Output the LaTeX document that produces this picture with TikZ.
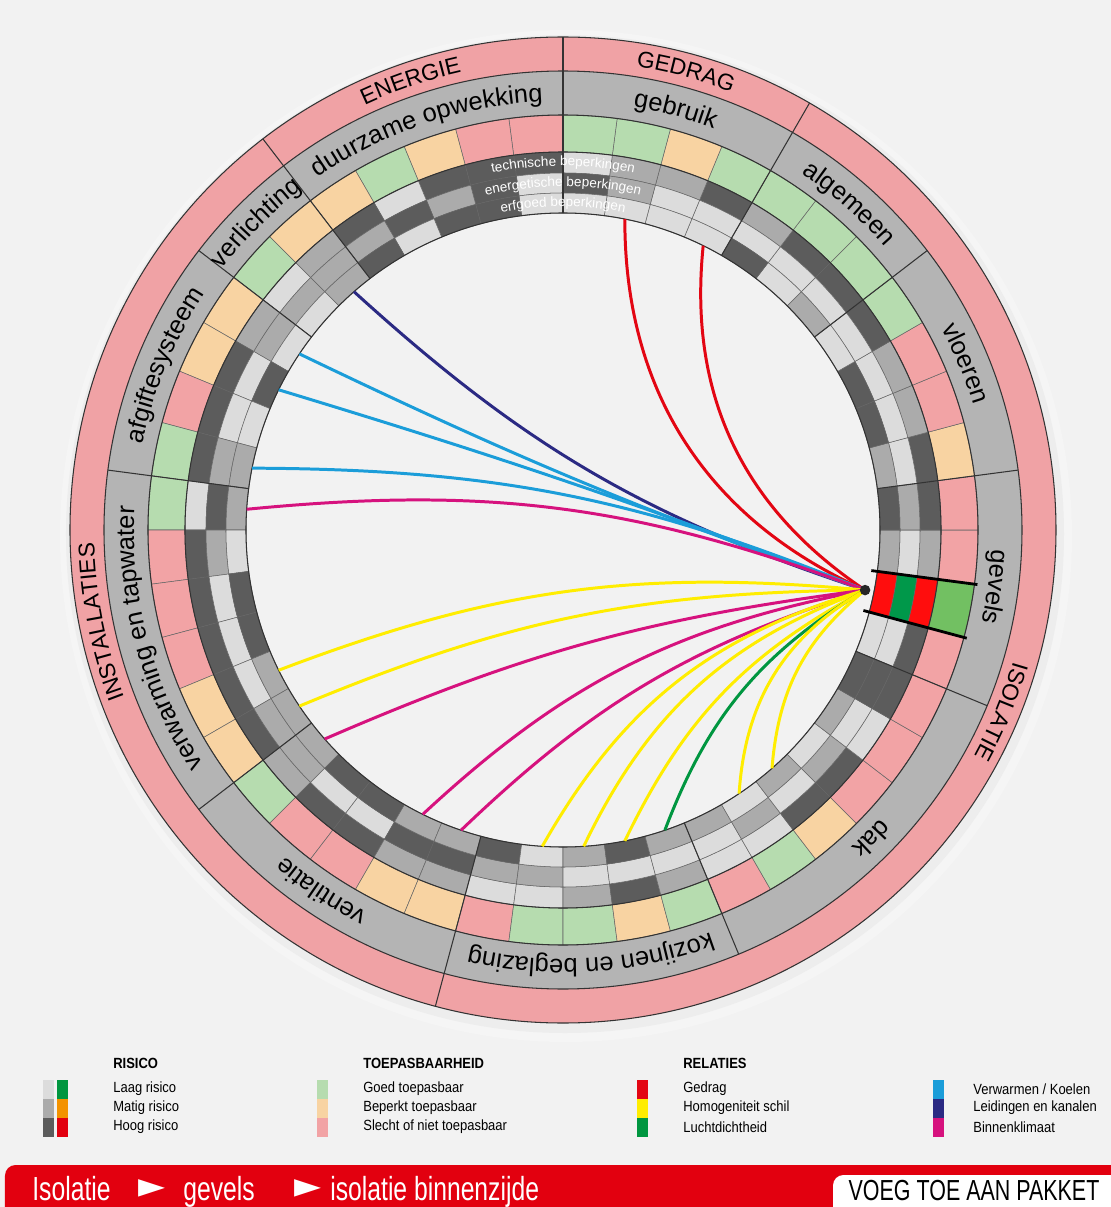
\documentclass[tikz,border=0pt]{standalone}
\usepackage{fontspec}
\setmainfont{Liberation Sans}
\newfontfamily\condfont[FakeStretch=0.88]{Liberation Sans}
\newfontfamily\barfont[FakeStretch=0.74]{Liberation Sans}
\newfontfamily\symfont{DejaVu Sans}
\usetikzlibrary{decorations.text}

\definecolor{pagebg}{HTML}{F2F2F2}
\definecolor{ringpink}{HTML}{F0A2A5}
\definecolor{ringgray}{HTML}{B4B4B4}
\definecolor{rL}{HTML}{DCDCDC}
\definecolor{rM}{HTML}{ABABAB}
\definecolor{rD}{HTML}{5C5C5C}
\definecolor{tG}{HTML}{B6DCAF}
\definecolor{tO}{HTML}{F8D3A2}
\definecolor{tP}{HTML}{F2A3A5}
\definecolor{tH}{HTML}{72C062}
\definecolor{hR}{HTML}{FF0D0D}
\definecolor{hG}{HTML}{00984A}
\definecolor{relred}{HTML}{E30613}
\definecolor{relyellow}{HTML}{FFED00}
\definecolor{relgreen}{HTML}{009640}
\definecolor{relblue}{HTML}{1B9DD9}
\definecolor{relnavy}{HTML}{2B2A83}
\definecolor{relmagenta}{HTML}{D6127E}
\definecolor{riskgreen}{HTML}{00963F}
\definecolor{riskorange}{HTML}{F39200}
\definecolor{barred}{HTML}{E2000F}

\tikzset{
  cellline/.style={draw=black!60,line width=0.3pt},
  ringline/.style={draw=black!80,line width=0.6pt},
  rel/.style={line width=1.7pt},
  hubdot/.style={circle,fill=black!85,inner sep=0pt,minimum size=6pt},
  legtitle/.style={anchor=west,inner sep=0pt,font=\condfont\bfseries\fontsize{8.4}{9}\selectfont},
  legtext/.style={anchor=west,inner sep=0pt,font=\condfont\fontsize{8.4}{9}\selectfont},
  bartext/.style={anchor=base west,inner sep=0pt,text=white,font=\barfont\fontsize{19}{19}\selectfont},
  bararrow/.style={anchor=west,inner sep=0pt,text=white,font=\symfont\fontsize{20}{20}\selectfont}
}

\newcommand\cellseg[3]{\filldraw[#1,cellline] (\angA:#2) arc[start angle=\angA,end angle=\angB,radius=#2] -- (\angB:#3) arc[start angle=\angB,end angle=\angA,radius=#3] -- cycle;}
\newcommand\ringtext[5]{\path[decorate,decoration={text along path,text align=center,text color=#4,text={|\fontsize{#3}{#3}\selectfont|#5}}] ({#1+50}:#2) arc[start angle={#1+50},end angle={#1-50},radius=#2];}

\begin{document}
\begin{tikzpicture}[x=0.02cm,y=0.02cm]
\useasboundingbox (-563,-677) rectangle (548,530);
\fill[pagebg] (-563,-677) rectangle (548,530);
\fill[black!4] (3,-6) circle[radius=506];
\fill[black!7] (2,-4) circle[radius=499];
\fill[ringpink,even odd rule] (0,0) circle[radius=493] (0,0) circle[radius=459];
\fill[ringgray,even odd rule] (0,0) circle[radius=459] (0,0) circle[radius=415];
\fill[pagebg] (0,0) circle[radius=317];
\foreach \tcol/\ra/\rb/\rc [count=\i from 0] in {
  tP/rD/rL/rL, tH/hR/hG/hR, tP/rM/rL/rM, tP/rD/rM/rD,
  tO/rD/rL/rM, tP/rM/rL/rD, tP/rM/rL/rD, tG/rD/rL/rL,
  tG/rD/rL/rM, tG/rD/rL/rL, tG/rM/rL/rD,
  tG/rD/rL/rL, tO/rM/rL/rL, tG/rM/rM/rL, tG/rL/rD/rL,
  tP/rD/rL/rL, tP/rD/rD/rD, tO/rD/rM/rD, tG/rL/rD/rL, tO/rD/rM/rD,
  tO/rM/rM/rM, tG/rL/rM/rL,
  tO/rM/rM/rL, tO/rD/rL/rD, tP/rD/rL/rL, tG/rD/rM/rM,
  tG/rL/rD/rM, tP/rD/rM/rL, tP/rD/rL/rD, tP/rD/rL/rD, tO/rD/rL/rM, tO/rD/rM/rM,
  tG/rM/rM/rM, tP/rD/rL/rD, tP/rD/rL/rD, tO/rM/rD/rM, tO/rM/rD/rM,
  tP/rL/rM/rD, tG/rL/rM/rL, tG/rM/rL/rM, tO/rD/rL/rD, tG/rM/rL/rM,
  tP/rL/rL/rM, tG/rL/rM/rL, tO/rD/rL/rM, tP/rD/rM/rL, tP/rL/rL/rM, tP/rD/rD/rD}{
  \pgfmathsetmacro\angA{-22.5+7.5*\i}
  \pgfmathsetmacro\angB{\angA+7.5}
  \cellseg{\tcol}{378}{415}
  \cellseg{\ra}{357}{378}
  \cellseg{\rb}{337}{357}
  \cellseg{\rc}{317}{337}
}
\foreach \r in {317,378,415,459,493} \draw[ringline] (0,0) circle[radius=\r];
\foreach \a in {-22.5,7.5,37.5,60,90,127.5,142.5,172.5,217.5,255,292.5} \draw[ringline] (\a:317) -- (\a:459);
\foreach \a in {60,90,127.5,255} \draw[ringline] (\a:459) -- (\a:493);

\ringtext{75}{469}{13}{black}{GEDRAG}
\ringtext{108.75}{469}{13}{black}{ENERGIE}
\ringtext{191.25}{469}{13}{black}{INSTALLATIES}
\ringtext{-22.5}{469}{13}{black}{ISOLATIE}
\ringtext{-7.5}{429}{14.5}{black}{gevels}
\ringtext{22.5}{429}{14.5}{black}{vloeren}
\ringtext{48.75}{429}{14.5}{black}{algemeen}
\ringtext{75}{429}{14.5}{black}{gebruik}
\ringtext{108.75}{429}{14.5}{black}{duurzame opwekking}
\ringtext{135}{429}{14.5}{black}{verlichting}
\ringtext{157.5}{429}{14.5}{black}{afgiftesysteem}
\ringtext{195}{429}{14.5}{black}{verwarming en tapwater}
\ringtext{236.25}{429}{14.5}{black}{ventilatie}
\ringtext{273.75}{429}{14.5}{black}{kozijnen en beglazing}
\ringtext{315}{429}{14.5}{black}{dak}
\ringtext{90}{364}{7.7}{white}{technische beperkingen}
\ringtext{90}{343.5}{7.7}{white}{energetische beperkingen}
\ringtext{90}{323.5}{7.7}{white}{erfgoed beperkingen}

\coordinate (hub) at (-11.25:308);
\foreach \col/\ang/\bend [count=\j] in {
  relred/78.75/33, relred/63.75/31, relnavy/131.25/12,
  relblue/146.25/3, relblue/153.75/-2, relblue/168.75/-11,
  relmagenta/176.25/-13, relyellow/206.25/-13, relyellow/213.75/-11,
  relmagenta/221.25/-8, relmagenta/243.75/-16, relmagenta/251.25/-13,
  relyellow/266.25/-22, relyellow/273.75/-22, relyellow/281.25/-18,
  relgreen/288.75/-19, relyellow/303.75/-28, relyellow/311.25/-23}{
  \coordinate (end\j) at (\ang:317);
  \draw[rel,\col] (hub) to[bend left=\bend] (end\j);
}
\node[hubdot] (dot) at (hub) {};
\draw[line width=1.6pt] (-15:311) -- (-15:418) (-7.5:311) -- (-7.5:418);

\node[legtitle] (risk) at (-450,-533) {RISICO};
\node[legtext] (risk1) at (-450,-559) {Laag risico};
\node[legtext] (risk2) at (-450,-578) {Matig risico};
\node[legtext] (risk3) at (-450,-597) {Hoog risico};
\fill[rL] (-520,-550) rectangle (-509,-569);
\fill[rM] (-520,-569) rectangle (-509,-588);
\fill[rD] (-520,-588) rectangle (-509,-607);
\fill[riskgreen] (-506,-550) rectangle (-495,-569);
\fill[riskorange] (-506,-569) rectangle (-495,-588);
\fill[barred] (-506,-588) rectangle (-495,-607);

\node[legtitle] (appl) at (-200,-533) {TOEPASBAARHEID};
\node[legtext] (appl1) at (-200,-559) {Goed toepasbaar};
\node[legtext] (appl2) at (-200,-578) {Beperkt toepasbaar};
\node[legtext] (appl3) at (-200,-597) {Slecht of niet toepasbaar};
\fill[tG] (-246,-550) rectangle (-235,-569);
\fill[tO] (-246,-569) rectangle (-235,-588);
\fill[tP] (-246,-588) rectangle (-235,-607);

\node[legtitle] (rels) at (120,-533) {RELATIES};
\node[legtext] (rels1) at (120,-559) {Gedrag};
\node[legtext] (rels2) at (120,-578) {Homogeniteit schil};
\node[legtext] (rels3) at (120,-597) {Luchtdichtheid};
\fill[relred] (74,-550) rectangle (85,-569);
\fill[relyellow] (74,-569) rectangle (85,-588);
\fill[relgreen] (74,-588) rectangle (85,-607);
\node[legtext] (rels4) at (410,-559) {Verwarmen / Koelen};
\node[legtext] (rels5) at (410,-578) {Leidingen en kanalen};
\node[legtext] (rels6) at (410,-597) {Binnenklimaat};
\fill[relblue] (370,-550) rectangle (381,-569);
\fill[relnavy] (370,-569) rectangle (381,-588);
\fill[relmagenta] (370,-588) rectangle (381,-607);

\fill[barred,rounded corners=6] (-558,-635) rectangle (570,-700);
\node[bartext] (crumb1) at (-531,-670) {Isolatie};
\node[bararrow] (arrow1) at (-425,-659) {►};
\node[bartext] (crumb2) at (-380,-670) {gevels};
\node[bararrow] (arrow2) at (-269,-659) {►};
\node[bartext] (crumb3) at (-233,-670) {isolatie binnenzijde};
\fill[white,rounded corners=6] (270,-645) rectangle (570,-700);
\node[anchor=base,inner sep=0pt,font=\barfont\fontsize{16.5}{16.5}\selectfont] (addbtn) at (411,-670) {VOEG TOE AAN PAKKET};
\end{tikzpicture}
\end{document}
